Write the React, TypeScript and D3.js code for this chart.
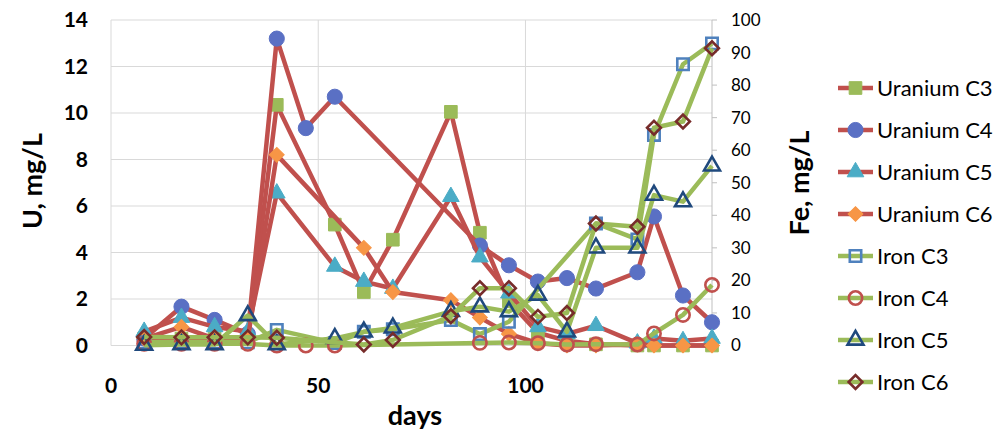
import React from 'react'
import * as d3 from 'd3'

const days = [8, 17, 25, 33, 40, 47, 54, 61, 68, 82, 89, 96, 103, 110, 117, 127, 131, 138, 145]

const uraniumC3 = [0.3, 0.3, 0.3, 0.3, 10.35, null, 5.2, 2.3, 4.55, 10.05, 4.85, 1.9, 0.55, 0.2, 0.05, 0.0, 0.0, 0.0, 0.0]
const uraniumC4 = [0.3, 1.67, 1.1, 0.5, 13.2, 9.35, 10.7, null, null, null, 4.3, 3.45, 2.75, 2.9, 2.45, 3.15, 5.55, 2.15, 1.0]
const uraniumC5 = [0.6, 1.2, 0.8, 0.6, 6.55, null, 3.4, 2.75, 2.45, 6.4, 3.8, 2.25, 0.8, 0.5, 0.85, 0.1, 0.3, 0.2, 0.3]
const uraniumC6 = [0.3, 0.8, 0.3, 0.3, 8.2, null, null, 4.2, 2.3, 1.95, 1.2, 0.5, 0.1, 0.0, 0.0, 0.05, 0.0, 0.0, 0.0]

const ironC3 = [1, 1, 1, 1, 4.8, null, 0.8, 4.2, 5.0, 7.8, 3.5, 7.3, null, null, 37.5, 32.6, 64.7, 86.4, 92.8]
const ironC4 = [0.5, 0.5, 0.5, 0.5, 0, 0, 0, null, null, null, 0.8, 0.9, 0.7, 0.3, 0.4, 0.3, 3.7, 9.4, 18.6]
const ironC5 = [0.1, 0.3, 0.3, 9.2, 0.3, null, 2.2, 4.2, 5.4, 10.5, 11.9, 10.4, 15.5, 4.2, 30, 30, 46.2, 44.2, 55.2]
const ironC6 = [2.6, 2.5, 2.5, 2.5, 2.4, null, null, 0.3, 1.7, 9.0, 17.6, 17.6, 8.8, 10.0, 37.5, 36.5, 66.9, 68.8, 91.3]

const uTicks = [0, 2, 4, 6, 8, 10, 12, 14]
const feTicks = [0, 10, 20, 30, 40, 50, 60, 70, 80, 90, 100]
const dayTicks = [0, 50, 100]

type Shape = 'square' | 'circle' | 'triangle' | 'diamond'

type Series = {
  name: string
  values: (number | null)[]
  axis: 'u' | 'fe'
  line: string
  shape: Shape
  fill: string
  stroke: string
}

const series: Series[] = [
  { name: 'Uranium C3', values: uraniumC3, axis: 'u', line: '#C0504D', shape: 'square', fill: '#9BBB59', stroke: '#9BBB59' },
  { name: 'Uranium C4', values: uraniumC4, axis: 'u', line: '#C0504D', shape: 'circle', fill: '#5A70C4', stroke: '#5A70C4' },
  { name: 'Uranium C5', values: uraniumC5, axis: 'u', line: '#C0504D', shape: 'triangle', fill: '#4BACC6', stroke: '#4BACC6' },
  { name: 'Uranium C6', values: uraniumC6, axis: 'u', line: '#C0504D', shape: 'diamond', fill: '#F79646', stroke: '#F79646' },
  { name: 'Iron C3', values: ironC3, axis: 'fe', line: '#9BBB59', shape: 'square', fill: 'none', stroke: '#4F81BD' },
  { name: 'Iron C4', values: ironC4, axis: 'fe', line: '#9BBB59', shape: 'circle', fill: 'none', stroke: '#C0504D' },
  { name: 'Iron C5', values: ironC5, axis: 'fe', line: '#9BBB59', shape: 'triangle', fill: 'none', stroke: '#1F497D' },
  { name: 'Iron C6', values: ironC6, axis: 'fe', line: '#9BBB59', shape: 'diamond', fill: 'none', stroke: '#772C2A' },
]

const width = 1003
const height = 430
const left = 111
const right = 712
const top = 20
const bottom = 345.5

const font = 'Lato, "Open Sans", sans-serif'

const markerPath = (shape: Shape, open: boolean) => {
  if (shape === 'square') return d3.symbol(d3.symbolSquare, open ? 130 : 160)()
  if (shape === 'circle') return d3.symbol(d3.symbolCircle, open ? 140 : 180)()
  if (shape === 'triangle') return d3.symbol(d3.symbolTriangle, open ? 110 : 120)()
  return d3.symbol(d3.symbolSquare, open ? 95 : 110)()
}

const Marker: React.FunctionComponent<{ s: Series; x: number; y: number }> = ({ s, x, y }) => {
  const open = s.fill === 'none'
  const rotate = s.shape === 'diamond' ? ' rotate(45)' : ''
  return (
    <path
      d={markerPath(s.shape, open) || ''}
      transform={`translate(${x},${y})${rotate}`}
      fill={s.fill}
      stroke={s.stroke}
      strokeWidth={open ? 2.6 : 1}
    />
  )
}

const App: React.FunctionComponent = () => {
  const x = d3.scaleLinear().domain([0, 145]).range([left, right])
  const yU = d3.scaleLinear().domain([0, 14]).range([bottom, top])
  const yFe = d3.scaleLinear().domain([0, 100]).range([bottom, top])

  const line = d3
    .line<[number, number]>()
    .x(d => d[0])
    .y(d => d[1])

  const points = (s: Series) => {
    const scale = s.axis === 'u' ? yU : yFe
    return days
      .map((d, i) => [d, s.values[i]] as [number, number | null])
      .filter(p => p[1] !== null)
      .map(p => [x(p[0]), scale(p[1] as number)] as [number, number])
  }

  const legendY = d3.scaleLinear().domain([0, 7]).range([88, 382])

  return (
    <svg
      width={width}
      height={height}
      style={{ position: 'absolute', left: 0, top: 0, background: '#fff' }}
      fontFamily={font}
    >
      {uTicks.map(t => (
        <line key={`h${t}`} x1={left} x2={right} y1={yU(t)} y2={yU(t)} stroke="#D9D9D9" strokeWidth={1} />
      ))}
      {dayTicks.map(t => (
        <line key={`v${t}`} x1={x(t)} x2={x(t)} y1={top} y2={bottom} stroke="#D9D9D9" strokeWidth={1} />
      ))}
      <line x1={right} x2={right} y1={top} y2={bottom} stroke="#BFBFBF" strokeWidth={1} />
      {feTicks.map(t => (
        <line key={`ft${t}`} x1={right} x2={right + 5} y1={yFe(t)} y2={yFe(t)} stroke="#BFBFBF" strokeWidth={1} />
      ))}

      {uTicks.map(t => (
        <text key={`ul${t}`} x={88} y={yU(t)} dy="0.35em" textAnchor="end" fontSize={21} fontWeight="bold" fill="#000">
          {t}
        </text>
      ))}
      {feTicks.map(t => (
        <text key={`fl${t}`} x={731} y={yFe(t)} dy="0.35em" textAnchor="start" fontSize={17} fill="#000">
          {t}
        </text>
      ))}
      {dayTicks.map(t => (
        <text key={`dl${t}`} x={x(t)} y={386} dy="0.35em" textAnchor="middle" fontSize={21} fontWeight="bold" fill="#000">
          {t}
        </text>
      ))}

      <text x={415} y={425} textAnchor="middle" fontSize={27} fontWeight="bold" fill="#000">
        days
      </text>
      <text
        transform="translate(33,181) rotate(-90)"
        textAnchor="middle"
        dy="0.35em"
        fontSize={27}
        fontWeight="bold"
        fill="#000"
      >
        U, mg/L
      </text>
      <text
        transform="translate(800,183) rotate(-90)"
        textAnchor="middle"
        dy="0.35em"
        fontSize={27}
        fontWeight="bold"
        fill="#000"
      >
        Fe, mg/L
      </text>

      {series.map(s => {
        const pts = points(s)
        return (
          <g key={s.name}>
            <path d={line(pts) || ''} fill="none" stroke={s.line} strokeWidth={4.5} strokeLinejoin="round" />
            {pts.map((p, i) => (
              <Marker key={i} s={s} x={p[0]} y={p[1]} />
            ))}
          </g>
        )
      })}

      {series.map((s, i) => (
        <g key={`lg${s.name}`}>
          <line x1={838} x2={873} y1={legendY(i)} y2={legendY(i)} stroke={s.line} strokeWidth={4.5} />
          <Marker s={s} x={855.5} y={legendY(i)} />
          <text x={877} y={legendY(i)} dy="0.35em" fontSize={22} fill="#000">
            {s.name}
          </text>
        </g>
      ))}
    </svg>
  )
}

export default App
